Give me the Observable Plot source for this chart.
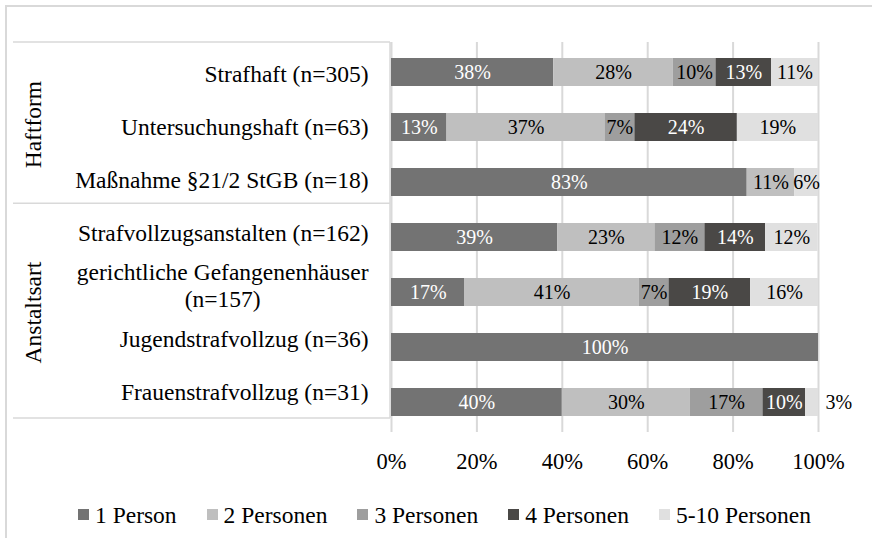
<!DOCTYPE html>
<html><head><meta charset="utf-8">
<script src="https://cdn.jsdelivr.net/npm/d3@7"></script>
<script src="https://cdn.jsdelivr.net/npm/@observablehq/plot@0.6"></script>
<style>
body{margin:0;background:#fff;font-family:"Liberation Serif","Times New Roman",serif;}
#wrap{position:relative;width:872px;height:538px;overflow:hidden;background:#fff;}
#frame{position:absolute;left:5px;top:5px;width:900px;height:600px;border:2px solid #d9d9d9;box-sizing:border-box;pointer-events:none;}
#legend{position:absolute;left:78px;top:500px;display:flex;gap:30px;font-size:23.5px;line-height:30px;color:#000;white-space:nowrap;}
#legend .item{display:flex;align-items:flex-start;}
#legend .sw{width:11px;height:11px;margin-top:9px;margin-right:6px;}
</style>
</head><body>
<div id="wrap"><div id="chart"></div><div id="legend"></div><div id="frame"></div></div>
<script>
// ---- data ----
const categories = [
  "Strafhaft (n=305)",
  "Untersuchungshaft (n=63)",
  "Maßnahme §21/2 StGB (n=18)",
  "Strafvollzugsanstalten (n=162)",
  "gerichtliche Gefangenenhäuser\n(n=157)",
  "Jugendstrafvollzug (n=36)",
  "Frauenstrafvollzug (n=31)"
];
const groupNames = ["Haftform", "Anstaltsart"];
const groupOf = ["Haftform","Haftform","Haftform","Anstaltsart","Anstaltsart","Anstaltsart","Anstaltsart"];
const seriesNames = ["1 Person","2 Personen","3 Personen","4 Personen","5-10 Personen"];
const person1   = [38, 13, 83.3, 38.9, 17.2, 100, 40];
const person2   = [28, 37, 11.1, 22.8, 40.8, 0, 30];
const person3   = [10,  7, 0,    11.7,  7.0, 0, 17];
const person4   = [13, 24, 0,    14.2, 19.1, 0, 10];
const person5_10= [11, 19, 5.6,  12.3, 15.9, 0, 3];
const xTicks = [0, 20, 40, 60, 80, 100];
const colors = ["#737373", "#bfbfbf", "#9e9e9e", "#4a4846", "#e0e0e0"];

// ---- build table ----
const seriesValues = [person1, person2, person3, person4, person5_10];
const rows = [];
categories.forEach((cat, i) => {
  let acc = 0;
  seriesValues.forEach((vals, s) => {
    const v = vals[i];
    if (v > 0) {
      rows.push({cat, series: seriesNames[s], s, value: v, x1: acc, x2: acc + v, label: Math.round(v) + "%"});
    }
    acc += v;
  });
});

const FONT = '"Liberation Serif","Times New Roman",serif';
const W = 872, H = 490, mL = 391, mR = 54, mT = 42, mB = 58;
const tableTop = 42, tableBottom = 418;
const n = categories.length;
const barStep = (H - mB - mT) / n;
const tableStep = (tableBottom - tableTop) / n;
const labelDy = i => (tableTop + (i + 0.5) * tableStep + 1.6) - (mT + (i + 0.5) * barStep);

// measure first line of multi-line label
const ctx = document.createElement("canvas").getContext("2d");
ctx.font = "23.5px " + FONT;

const catMarks = categories.map((c, i) => {
  const multi = c.includes("\n");
  const w = multi ? ctx.measureText(c.split("\n")[0]).width : 0;
  return Plot.text([c], {
    y: d => d, text: d => d, frameAnchor: "left",
    dx: multi ? -23 - w / 2 : -23, dy: labelDy(i),
    textAnchor: multi ? "middle" : "end", fontSize: 23.5, lineHeight: 1.12, fill: "#000"
  });
});

const isDark = d => d.s === 0 || d.s === 3;
const chart = Plot.plot({
  width: W, height: H, marginLeft: mL, marginRight: mR, marginTop: mT, marginBottom: mB,
  style: {fontFamily: FONT, background: "transparent", overflow: "visible"},
  x: {domain: [0, 100]},
  y: {domain: categories, paddingInner: 0.5, paddingOuter: 0.25, axis: null},
  color: {domain: seriesNames, range: colors},
  marks: [
    Plot.gridX(xTicks, {stroke: "#d9d9d9", strokeOpacity: 1, strokeWidth: 2}),
    Plot.barX(rows, {x1: "x1", x2: "x2", y: "cat", fill: "series"}),
    Plot.text(rows.filter(d => d.value >= 5 && isDark(d)), {x: d => (d.x1 + d.x2) / 2, y: "cat", text: "label", fill: "#fff", fontSize: 20}),
    Plot.text(rows.filter(d => d.value >= 5 && !isDark(d)), {x: d => (d.x1 + d.x2) / 2, y: "cat", text: "label", fill: "#000", fontSize: 20}),
    Plot.text(rows.filter(d => d.value < 5), {x: "x2", y: "cat", text: "label", textAnchor: "start", dx: 7, fill: "#000", fontSize: 20}),
    Plot.axisX(xTicks, {anchor: "bottom", tickSize: 0, tickPadding: 21, tickFormat: d => d + "%", fontSize: 22.5, fill: "#000"}),
    ...catMarks
  ]
});
document.getElementById("chart").appendChild(chart);

// table lines & group labels
const svg = d3.select(chart);
const tableY = d3.scaleBand(categories, [tableTop, tableBottom]);
const lineColor = "#d9d9d9";
const g = svg.append("g").attr("stroke", lineColor).attr("stroke-width", 1.5);
const firstOfGroup = groupNames.map(gn => categories[groupOf.indexOf(gn)]);
firstOfGroup.forEach(c => {
  const y = tableY(c);
  g.append("line").attr("x1", 13).attr("x2", mL - 1).attr("y1", y).attr("y2", y);
});
g.append("line").attr("x1", 13).attr("x2", mL - 1).attr("y1", tableBottom).attr("y2", tableBottom);
g.append("line").attr("x1", mL - 1).attr("x2", mL - 1).attr("y1", tableTop).attr("y2", tableBottom);
groupNames.forEach(gn => {
  const idx = groupOf.map((v, i) => v === gn ? i : -1).filter(i => i >= 0);
  const y0 = tableY(categories[idx[0]]), y1 = tableY(categories[idx[idx.length - 1]]) + tableY.bandwidth();
  const yc = (y0 + y1) / 2 + 2;
  svg.append("text").attr("transform", `translate(33,${yc}) rotate(-90)`)
    .attr("text-anchor", "middle").attr("dy", "0.32em")
    .attr("font-size", 23.5).attr("font-family", FONT).attr("fill", "#000").text(gn);
});

// legend
const leg = d3.select("#legend");
seriesNames.forEach((s, i) => {
  const it = leg.append("div").attr("class", "item");
  it.append("div").attr("class", "sw").style("background", colors[i]);
  it.append("span").text(s);
});
</script>
</body></html>
